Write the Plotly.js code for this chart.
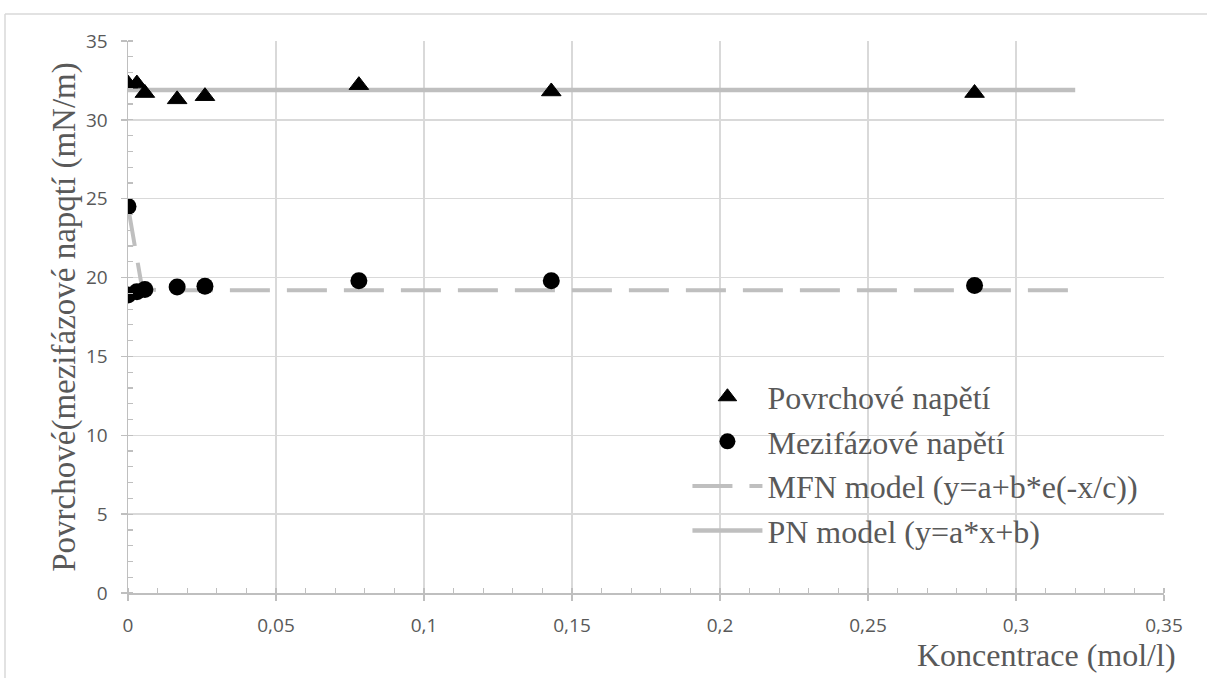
<!DOCTYPE html>
<html>
<head>
<meta charset="utf-8">
<script src="https://cdn.plot.ly/plotly-3.0.1.min.js"></script>
<style>
  html, body { margin: 0; padding: 0; background: #ffffff; }
  #chart { width: 1207px; height: 678px; }
</style>
</head>
<body>
<div id="chart"></div>
<script>
// Povrchové napětí (triangles)
const triX = [0, 0.003, 0.0057, 0.0166, 0.026, 0.078, 0.143, 0.286];
const triY = [32.3, 32.3, 31.7, 31.3, 31.5, 32.2, 31.8, 31.7];
// Mezifázové napětí (circles)
const circX = [0, 0, 0.003, 0.0057, 0.0166, 0.026, 0.078, 0.143, 0.286];
const circY = [24.5, 18.9, 19.1, 19.25, 19.4, 19.45, 19.8, 19.8, 19.5];
// MFN model curve
const mfnX = [0, 0.0025, 0.0048, 0.01, 0.32];
const mfnY = [24.5, 21.7, 19.3, 19.2, 19.2];
// PN model line
const pnX = [0, 0.32];
const pnY = [31.9, 31.9];

const xTickVals = [0, 0.05, 0.1, 0.15, 0.2, 0.25, 0.3, 0.35];
const xTickText = ['0', '0,05', '0,1', '0,15', '0,2', '0,25', '0,3', '0,35'];
const yTickVals = [0, 5, 10, 15, 20, 25, 30, 35];
const yTickText = ['0', '5', '10', '15', '20', '25', '30', '35'];

const names = ['Povrchové napětí', 'Mezifázové napětí', 'MFN model (y=a+b*e(-x/c))', 'PN model (y=a*x+b)'];

const grey = '#BFBFBF';
const textCol = '#595959';
const serif = '"Times New Roman", "Liberation Serif", "DejaVu Serif", serif';

const data = [
  { x: mfnX, y: mfnY, mode: 'lines', name: names[2], legendrank: 3,
    line: { color: grey, width: 4, dash: '40px,17px' }, hoverinfo: 'skip' },
  { x: pnX, y: pnY, mode: 'lines', name: names[3], legendrank: 4,
    line: { color: grey, width: 4.5 }, hoverinfo: 'skip' },
  { x: triX, y: triY, mode: 'markers', name: names[0], legendrank: 1,
    marker: { symbol: 'triangle-up', size: 17, color: '#000000', line: { color: '#000000', width: 1 } } },
  { x: circX, y: circY, mode: 'markers', name: names[1], legendrank: 2,
    marker: { symbol: 'circle', size: 17, color: '#000000' } }
];

const layout = {
  width: 1207, height: 678,
  margin: { l: 128, r: 43, t: 41, b: 85 },
  paper_bgcolor: '#ffffff', plot_bgcolor: '#ffffff',
  showlegend: true,
  legend: {
    x: 0.54, y: 0.405, xanchor: 'left', yanchor: 'top',
    bgcolor: 'rgba(0,0,0,0)', borderwidth: 0,
    font: { family: serif, size: 32, color: textCol },
    itemwidth: 70, traceorder: 'normal'
  },
  xaxis: {
    range: [0, 0.35], tickvals: xTickVals, ticktext: xTickText,
    showgrid: true, gridcolor: '#D9D9D9', gridwidth: 1.5,
    zeroline: false, showline: true, linecolor: grey, linewidth: 1.5,
    ticks: 'outside', ticklen: 6, tickcolor: grey, tickwidth: 1.5,
    minor: { dtick: 0.01, ticks: 'inside', ticklen: 5, tickcolor: grey, tickwidth: 1.2, showgrid: false },
    tickfont: { family: 'Open Sans', size: 19, color: textCol },
    ticklabelstandoff: 9,
    fixedrange: true
  },
  yaxis: {
    range: [0, 35], tickvals: yTickVals, ticktext: yTickText,
    showgrid: true, gridcolor: '#D9D9D9', gridwidth: 1.5,
    zeroline: false, showline: true, linecolor: grey, linewidth: 1.5,
    ticks: 'outside', ticklen: 6, tickcolor: grey, tickwidth: 1.5,
    minor: { dtick: 1, ticks: 'inside', ticklen: 5, tickcolor: grey, tickwidth: 1.2, showgrid: false },
    tickfont: { family: 'Open Sans', size: 19, color: textCol },
    ticklabelstandoff: 9,
    title: { text: 'Povrchové(mezifázové napqtí (mN/m)', font: { family: serif, size: 33, color: textCol }, standoff: 0 },
    automargin: false,
    fixedrange: true
  },
  annotations: [
    { text: 'Koncentrace (mol/l)', xref: 'paper', yref: 'paper',
      x: (1178 - 128) / 1036, y: (593 - 655) / 552, xanchor: 'right', yanchor: 'middle',
      showarrow: false, font: { family: serif, size: 32, color: textCol } }
  ],
  shapes: [
    { type: 'line', xref: 'paper', yref: 'paper', x0: (5 - 128) / 1036, x1: (1207 - 128) / 1036,
      y0: (593 - 14) / 552, y1: (593 - 14) / 552, line: { color: '#D9D9D9', width: 1.5 } },
    { type: 'line', xref: 'paper', yref: 'paper', x0: (5 - 128) / 1036, x1: (5 - 128) / 1036,
      y0: (593 - 14) / 552, y1: (593 - 680) / 552, line: { color: '#D9D9D9', width: 1.5 } }
  ]
};

Plotly.newPlot('chart', data, layout, { staticPlot: true, displayModeBar: false });
</script>
</body>
</html>
